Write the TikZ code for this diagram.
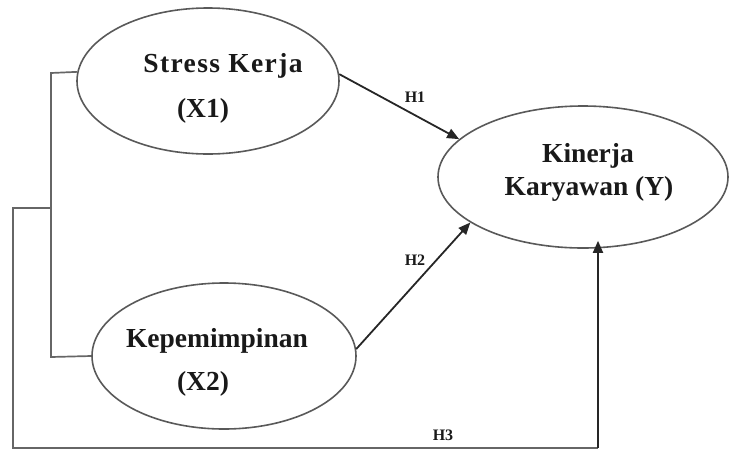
\documentclass[tikz,border=0pt]{standalone}
\usepackage{fontspec}
\setmainfont{Liberation Serif}
\usetikzlibrary{arrows.meta,shapes.geometric}
\begin{document}
\begin{tikzpicture}[x=1pt,y=-1pt,
  var/.style={draw=black!65,line width=1.6pt,ellipse,inner sep=0pt},
  lbl/.style={anchor=base,font=\fontsize{27.5}{30}\selectfont\bfseries,text=black!90,inner sep=0pt},
  hl/.style={anchor=base,font=\fontsize{16}{18}\selectfont\bfseries,text=black!90,inner sep=0pt},
  path/.style={draw=black!85,line width=1.8pt,-{Triangle[length=12pt,width=10pt]}},
  link/.style={draw=black!60,line width=1.7pt}]
\useasboundingbox (0,0) rectangle (731,451);
\node[var,minimum width=262pt,minimum height=146pt] (e1) at (208,81) {};
\node[var,minimum width=264pt,minimum height=146pt] (e2) at (224,356) {};
\node[var,minimum width=290pt,minimum height=142pt] (e3) at (583,177) {};
\node[lbl] (t1a) at (223,72) {\addfontfeature{LetterSpace=5}Stress Kerja};
\node[lbl] (t1b) at (203,117) {(X1)};
\node[lbl] (t2a) at (217,347) {Kepemimpinan};
\node[lbl] (t2b) at (203,390) {(X2)};
\node[lbl] (t3a) at (588,162) {Kinerja};
\node[lbl] (t3b) at (589,195) {Karyawan (Y)};
\node[hl] (h1) at (415,102) {H1};
\node[hl] (h2) at (415,265) {H2};
\node[hl] (h3) at (443,440) {H3};
\coordinate (bt) at (51,73);
\coordinate (bb) at (51,357);
\coordinate (o1) at (51,208);
\coordinate (o2) at (13,208);
\coordinate (o3) at (13,448);
\coordinate (o4) at (598,448);
\draw[link] (e1.176) -- (bt) -- (bb) -- (e2.west);
\draw[link] (o1) -- (o2) -- (o3) -- (o4);
\draw[path] (e1.3) -- (e3.163);
\draw[path] (e2.3) -- (e3.202);
\draw[path,shorten >=-8pt] (o4) -- (o4 |- e3.south);
\end{tikzpicture}
\end{document}
